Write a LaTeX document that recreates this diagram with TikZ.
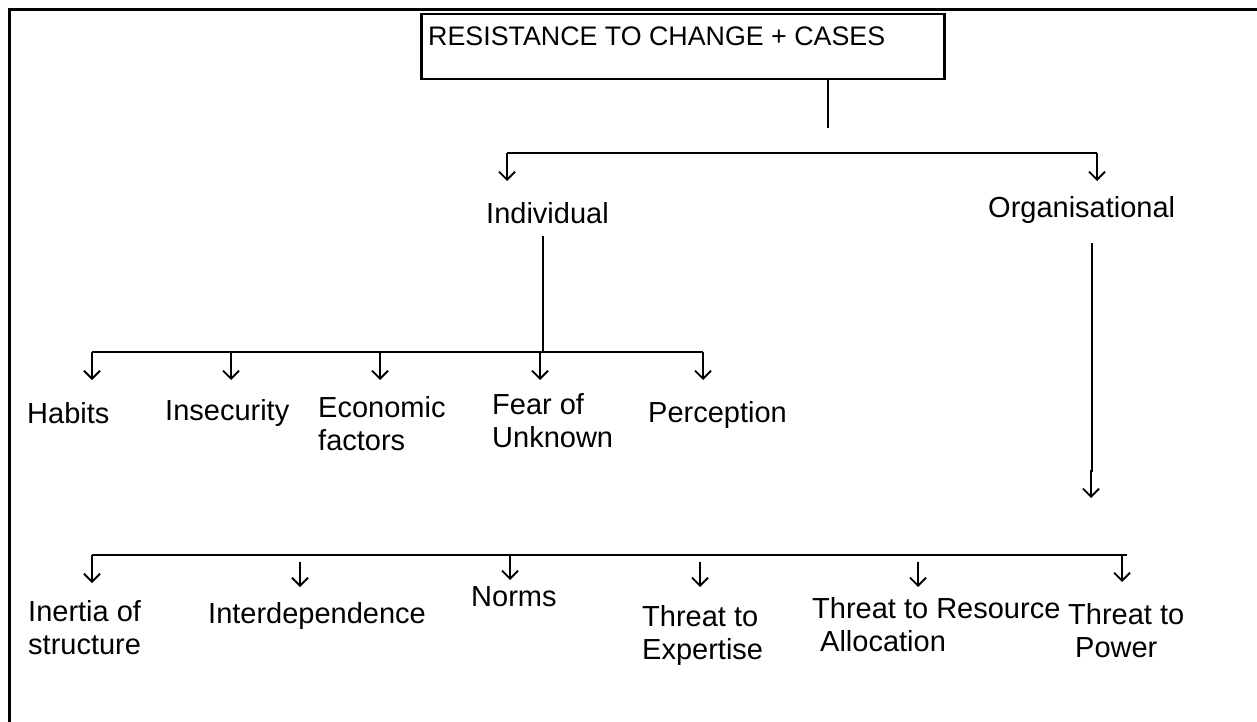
\documentclass[tikz,border=0pt]{standalone}
\usepackage{fontspec}
\setmainfont{Liberation Sans}
\usetikzlibrary{arrows.meta}
\begin{document}
\begin{tikzpicture}[x=1pt,y=-1pt,
  lbl/.style={font=\fontsize{29}{33}\selectfont, inner sep=0pt, align=left, anchor=west},
  ttl/.style={font=\fontsize{26.8}{30}\selectfont, inner sep=0pt, anchor=west},
  wire/.style={line width=2.5pt},
  frame/.style={line width=3pt},
  down/.style={line width=1.8pt, -{Straight Barb[length=8pt,width=16pt,line width=1.8pt]}},
]
\useasboundingbox (0,0) rectangle (1257,722);

% page frame (top and left rules)
\draw[frame] (1257,10) -- (9,10) -- (9,722);

% heading box
\node[draw, line width=2.5pt, anchor=north west, minimum width=523pt,
      minimum height=65pt, inner sep=0pt] (title) at (420,13) {};
\node[ttl] (titletext) at (428,36) {RESISTANCE TO CHANGE + CASES};

% first split
\coordinate (stem) at (828,128);
\draw[wire] (title.south -| stem) -- (stem);
\coordinate (jl) at (507,153);
\coordinate (jr) at (1097,153);
\draw[wire] (jl) -- (jr);
\coordinate (tl) at (507,181);
\coordinate (tr) at (1097,181);
\draw[down] (jl) -- (tl);
\draw[down] (jr) -- (tr);

\node[lbl] (ind) at (486,213) {Individual};
\node[lbl] (org) at (988,210) {Organisational};

% individual factors
\coordinate (ib) at (543,352);
\draw[wire] (543,236) -- (ib);
\coordinate (il) at (92,352);
\coordinate (ir) at (703,352);
\draw[wire] (il) -- (ir);
\foreach \x/\n in {92/a1,231/a2,380/a3,540/a4,703/a5}{
  \coordinate (\n s) at (\x,352);
  \coordinate (\n t) at (\x,380);
  \draw[down] (\n s) -- (\n t);
}
\node[lbl] (hab) at (27,413) {Habits};
\node[lbl] (ins) at (165,413) {Insecurity};
\node[lbl] (eco) at (318,424) {Economic\\factors};
\node[lbl] (fea) at (492,421) {Fear of\\Unknown};
\node[lbl] (per) at (648,415) {Perception};

% organisational factors
\coordinate (ob) at (1092,472);
\draw[wire] (1092,243) -- (ob);
\coordinate (obt) at (1091,498);
\draw[down] (1091,470) -- (obt);
\coordinate (bl) at (92,555);
\coordinate (br) at (1127,555);
\draw[wire] (bl) -- (br);
\foreach \x/\s/\t/\n in {92/555/583/b1,300/562/587/b2,510/555/580/b3,700/562/587/b4,918/562/587/b5,1122/555/582/b6}{
  \coordinate (\n s) at (\x,\s);
  \coordinate (\n t) at (\x,\t);
  \draw[down] (\n s) -- (\n t);
}
\node[lbl] (ine) at (28,628) {Inertia of\\structure};
\node[lbl] (int) at (208,616) {Interdependence};
\node[lbl] (nor) at (471,597) {Norms};
\node[lbl] (exp) at (642,635) {Threat to\\Expertise};
\node[lbl] (res) at (812,625) {Threat to Resource\\\hspace*{8pt}Allocation};
\node[lbl] (pow) at (1068,631) {Threat to\\\hspace*{7pt}Power};
\end{tikzpicture}
\end{document}
